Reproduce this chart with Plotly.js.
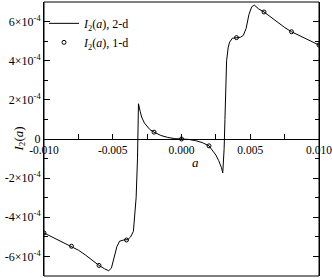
<!DOCTYPE html>
<html>
<head>
<meta charset="utf-8">
<script src="https://cdn.plot.ly/plotly-3.0.1.min.js"></script>
<style>
  html, body { margin: 0; padding: 0; background: #fff; }
  #chart { width: 332px; height: 278px; }
</style>
</head>
<body>
<div id="chart"></div>
<script>
// I2(a) from the 2-d calculation (solid curve)
const curveA = [
  -0.0100, -0.0095, -0.0090, -0.0085, -0.0080, -0.0075, -0.0070, -0.0065,
  -0.0060, -0.0056, -0.0053, -0.0051, -0.0049, -0.0047, -0.0045, -0.0042,
  -0.0039, -0.0037, -0.0035, -0.0034, -0.0033, -0.0032, -0.00316, -0.00313,
  -0.0030, -0.0029, -0.0027, -0.0025, -0.0023, -0.0020, -0.0015, -0.0010,
  -0.0005, 0,
  0.0005, 0.0010, 0.0015, 0.0020, 0.0023, 0.0025, 0.0027, 0.0029,
  0.0030, 0.00306, 0.0031, 0.00316, 0.0032, 0.00328, 0.0034, 0.0035,
  0.0037, 0.0040, 0.0043, 0.0045, 0.0047, 0.0049, 0.0051, 0.0053,
  0.0056, 0.0060, 0.0065, 0.0070, 0.0075, 0.0080, 0.0085, 0.0090,
  0.0095, 0.0100,
];
const curveI2 = [
  -4.80e-4, -4.98e-4, -5.15e-4, -5.32e-4, -5.48e-4, -5.68e-4, -5.92e-4, -6.20e-4,
  -6.46e-4, -6.63e-4, -6.73e-4, -6.60e-4, -6.10e-4, -5.50e-4, -5.22e-4, -5.16e-4,
  -5.14e-4, -5.00e-4, -4.72e-4, -4.00e-4, -3.00e-4, -1.00e-4, 0.80e-4, 1.80e-4,
  1.40e-4, 1.12e-4, 0.82e-4, 0.62e-4, 0.48e-4, 0.35e-4, 0.18e-4, 0.08e-4,
  0.02e-4, 0,
  -0.02e-4, -0.08e-4, -0.18e-4, -0.35e-4, -0.60e-4, -0.82e-4, -1.10e-4, -1.45e-4,
  -1.73e-4, -1.20e-4, -0.50e-4, 1.00e-4, 2.40e-4, 4.00e-4, 4.70e-4, 4.95e-4,
  5.15e-4, 5.18e-4, 5.20e-4, 5.30e-4, 5.65e-4, 6.35e-4, 6.75e-4, 6.84e-4,
  6.65e-4, 6.49e-4, 6.22e-4, 5.95e-4, 5.70e-4, 5.48e-4, 5.30e-4, 5.12e-4,
  4.96e-4, 4.80e-4,
];

// I2(a) from the 1-d calculation (open circles)
const pointsA = [-0.010, -0.008, -0.006, -0.004, -0.002, 0, 0.002, 0.004, 0.006, 0.008, 0.010];
const pointsI2 = [-4.80e-4, -5.48e-4, -6.46e-4, -5.16e-4, 0.35e-4, 0, -0.35e-4, 5.18e-4, 6.49e-4, 5.48e-4, 4.80e-4];

// tick labels
const xTickVals = [-0.010, -0.005, 0, 0.005, 0.010];
const xTickText = ['-0.010', '-0.005', '0.000', '0.005', '0.010'];
const yTickVals = [-6e-4, -4e-4, -2e-4, 0, 2e-4, 4e-4, 6e-4];
const yTickText = [
  '-6×10<sup>-4</sup>', '-4×10<sup>-4</sup>', '-2×10<sup>-4</sup>', '0',
  '2×10<sup>-4</sup>', '4×10<sup>-4</sup>', '6×10<sup>-4</sup>',
];

const font = {family: 'Liberation Serif, Times New Roman, serif', size: 12, color: '#000'};

const traces = [
  {
    x: curveA,
    y: curveI2,
    type: 'scatter',
    mode: 'lines',
    name: '<i>I</i><sub>2</sub>(<i>a</i>), 2-d',
    line: {color: '#000', width: 1},
  },
  {
    x: pointsA,
    y: pointsI2,
    type: 'scatter',
    mode: 'markers',
    name: '<i>I</i><sub>2</sub>(<i>a</i>), 1-d',
    marker: {symbol: 'circle-open', size: 4, color: '#000', line: {width: 1, color: '#000'}},
  },
];

const layout = {
  width: 332,
  height: 278,
  margin: {l: 44, r: 13, t: 2, b: 2},
  paper_bgcolor: '#fff',
  plot_bgcolor: '#fff',
  font: font,
  showlegend: true,
  legend: {
    x: 0.0,
    y: 0.975,
    xanchor: 'left',
    yanchor: 'top',
    bgcolor: 'rgba(0,0,0,0)',
    font: font,
    tracegroupgap: 0,
  },
  xaxis: {
    range: [-0.010, 0.010],
    anchor: 'free',
    position: 0.5,
    showgrid: false,
    zeroline: false,
    showline: true,
    linecolor: '#000',
    linewidth: 1,
    ticks: 'inside',
    ticklen: 5,
    tickcolor: '#000',
    tickvals: xTickVals,
    ticktext: xTickText,
    tickfont: {family: font.family, size: 11.5, color: '#000'},
    ticklabeloverflow: 'allow',
    minor: {ticks: 'inside', dtick: 0.0025, ticklen: 5, tickcolor: '#000', showgrid: false},
  },
  yaxis: {
    range: [-7e-4, 7e-4],
    showgrid: false,
    zeroline: false,
    showline: true,
    mirror: 'ticks',
    linecolor: '#000',
    linewidth: 1,
    ticks: 'inside',
    ticklen: 6,
    tickcolor: '#000',
    tickvals: yTickVals,
    ticktext: yTickText,
    tickfont: font,
    ticklabeloverflow: 'allow',
    minor: {ticks: 'inside', dtick: 1e-4, ticklen: 4, tickcolor: '#000', showgrid: false},
  },
  shapes: [
    {
      type: 'rect', xref: 'paper', yref: 'paper',
      x0: 0, x1: 1, y0: 0, y1: 1,
      line: {color: '#000', width: 1},
      layer: 'above',
    },
  ],
  annotations: [
    {
      text: '<i>a</i>',
      xref: 'paper', yref: 'paper',
      x: 0.55, y: 0.5,
      yshift: -23,
      showarrow: false,
      font: {family: font.family, size: 13, color: '#000'},
    },
    {
      text: '<i>I</i><sub>2</sub>(<i>a</i>)',
      xref: 'paper', yref: 'paper',
      x: 0, y: 0.5,
      xshift: -36,
      textangle: -90,
      showarrow: false,
      font: {family: font.family, size: 13, color: '#000'},
    },
  ],
};

Plotly.newPlot('chart', traces, layout, {displayModeBar: false, staticPlot: true});
</script>
</body>
</html>
